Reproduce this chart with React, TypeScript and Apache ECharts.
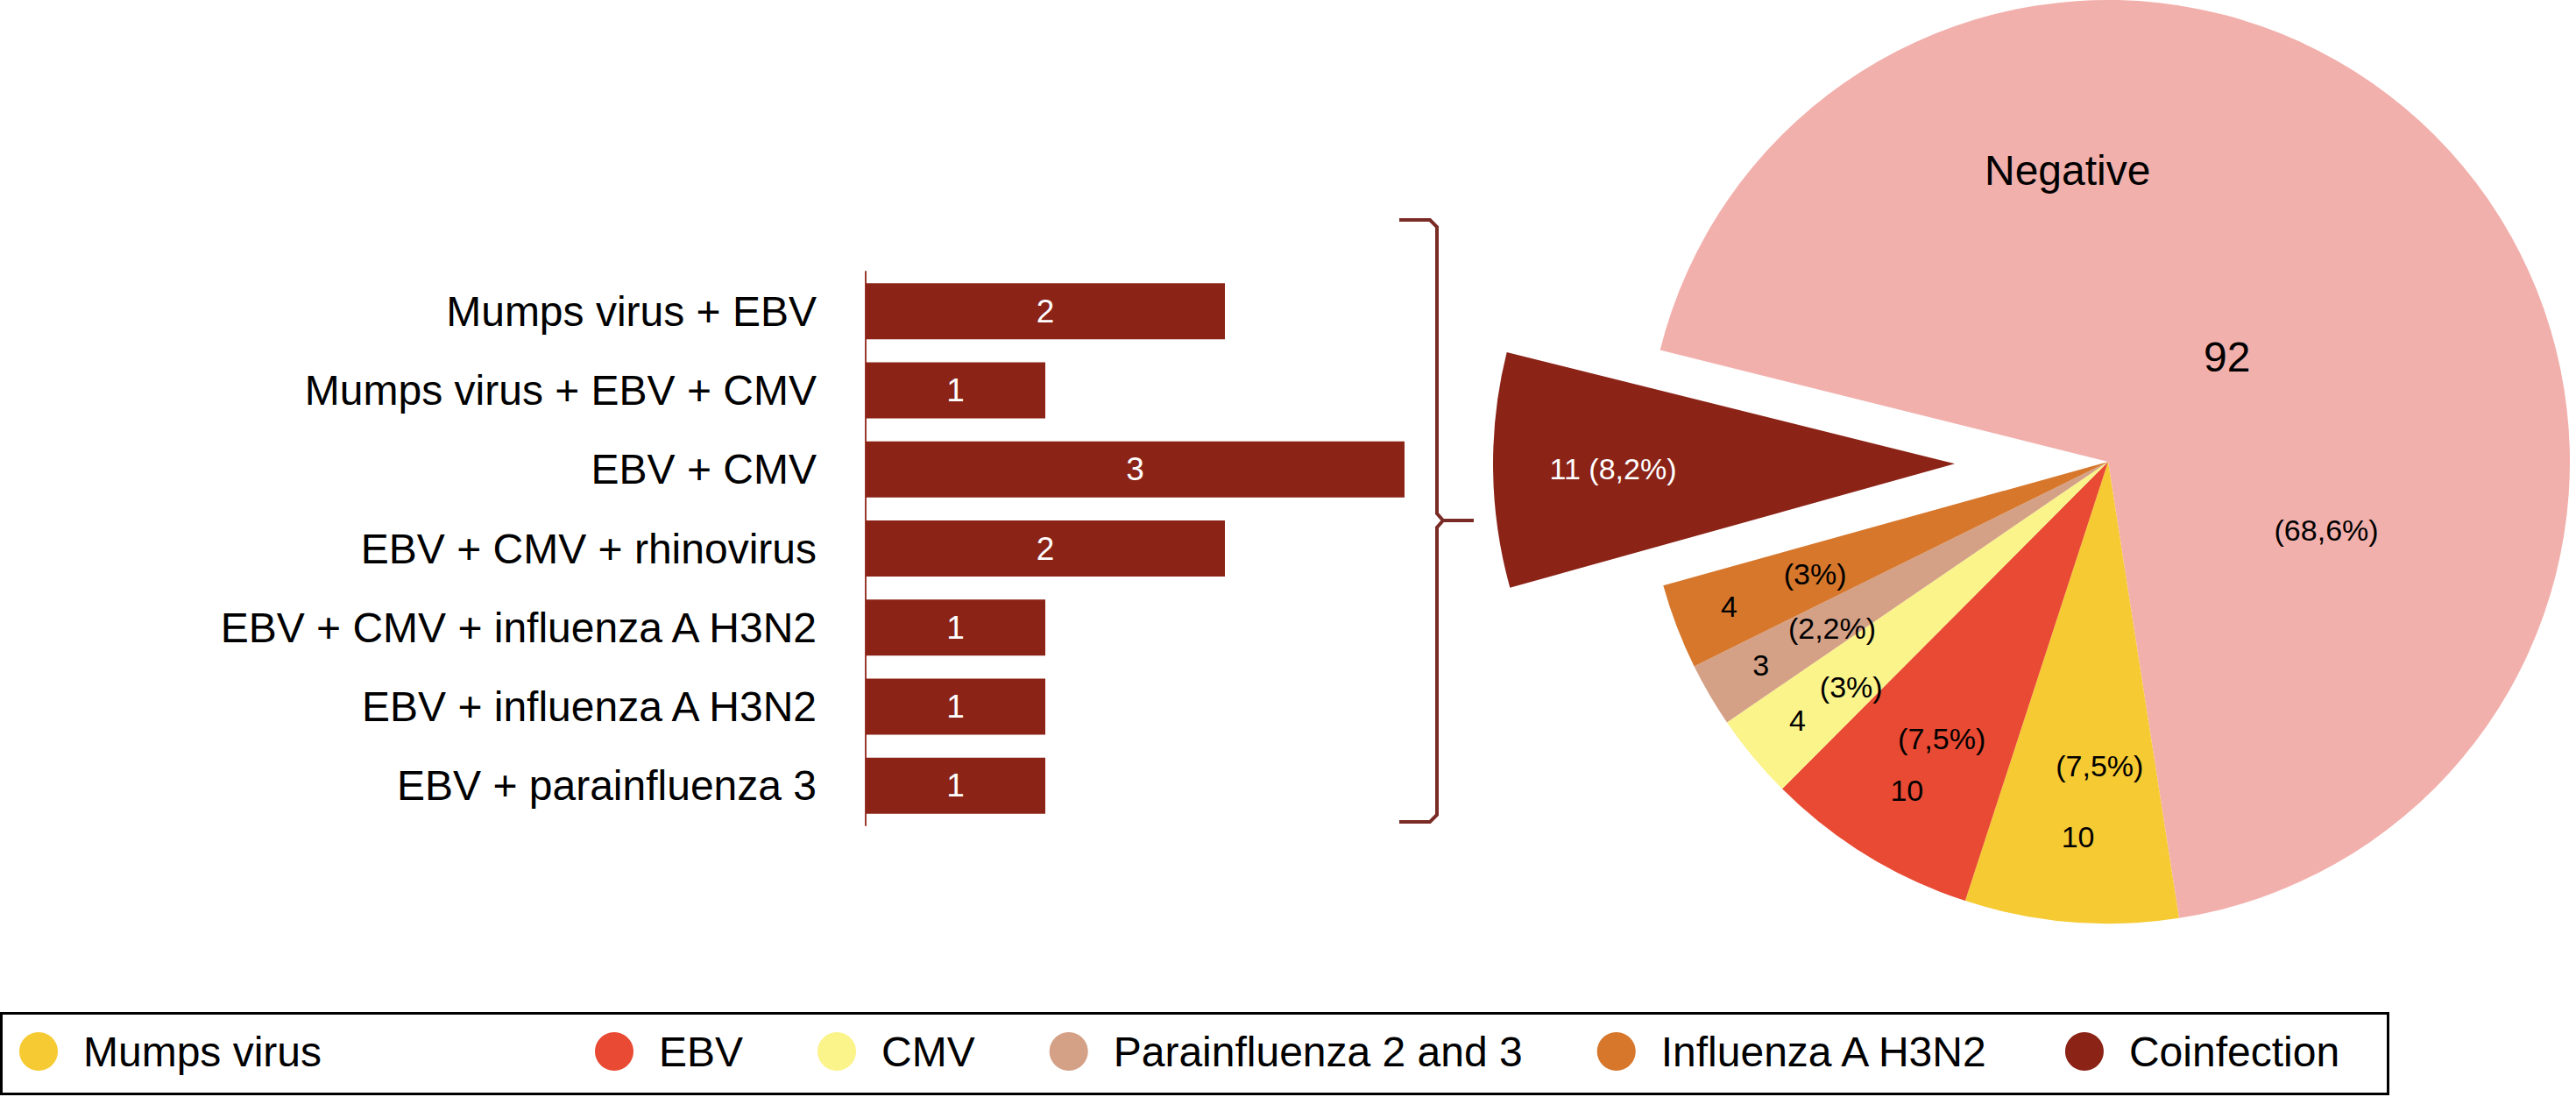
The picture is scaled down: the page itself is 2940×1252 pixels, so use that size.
import { useEffect, useRef } from "react";
import * as echarts from "echarts";

// 合并感染（柱状图）
const COINF_CATEGORIES = [
  "Mumps virus + EBV",
  "Mumps virus + EBV + CMV",
  "EBV + CMV",
  "EBV + CMV + rhinovirus",
  "EBV + CMV + influenza A H3N2",
  "EBV + influenza A H3N2",
  "EBV + parainfluenza 3",
];
const COINF_COUNTS = [2, 1, 3, 2, 1, 1, 1];

// 饼图：阴性 + 各病毒 + 合并感染
const PIE_NAMES = [
  "Negative",
  "Mumps virus",
  "EBV",
  "CMV",
  "Parainfluenza 2 and 3",
  "Influenza A H3N2",
  "Coinfection",
];
const PIE_VALUES = [92, 10, 10, 4, 3, 4, 11];
const PIE_PERCENTS = ["68,6%", "7,5%", "7,5%", "3%", "2,2%", "3%", "8,2%"];
const PIE_COLORS = [
  "#f2b0ac",
  "#f6ca33",
  "#e94a33",
  "#fbf48a",
  "#d4a187",
  "#d6772c",
  "#8b2317",
];
const LEGEND_FIRST = ["Mumps virus"];
const LEGEND_REST = [
  "EBV",
  "CMV",
  "Parainfluenza 2 and 3",
  "Influenza A H3N2",
  "Coinfection",
];

const BAR_COLOR = "#8b2317";
const FONT = "'Liberation Sans', Arial, Helvetica, sans-serif";
const COINF = 6; // Coinfection 的下标

// 饼图几何
const PIE_CX = 2406;
const PIE_CY = 527;
const PIE_R = 527;
const START_ANGLE = 166;
const EXPLODE = 175;

// 标签放置：[半径, 相对扇区中线的角度偏移]
const VALUE_LABEL_POS: [number, number][] = [
  [181, -1],
  [429, 0],
  [440, 0],
  [461, 0],
  [459, 0],
  [463, 0],
  [0, 0],
];
const PCT_LABEL_POS: [number, number][] = [
  [261, -59.8],
  [347, 3],
  [369, 0.5],
  [390, 1.5],
  [368, 0.8],
  [358, 0],
  [565, 0],
];
const NAME_LABEL_POS: [number, number] = [336, 55.5];

const total = PIE_VALUES.reduce((a, b) => a + b, 0);

function midAngle(i: number) {
  let acc = 0;
  for (let j = 0; j < i; j++) acc += PIE_VALUES[j];
  return START_ANGLE - ((acc + PIE_VALUES[i] / 2) / total) * 360;
}

function polar(i: number, [r, d]: [number, number]) {
  const a = ((midAngle(i) + d) * Math.PI) / 180;
  return {
    x: PIE_CX + r * Math.cos(a),
    y: PIE_CY - r * Math.sin(a),
    align: "center",
    verticalAlign: "middle",
  };
}

const pieBase = {
  type: "pie",
  center: [PIE_CX, PIE_CY],
  radius: PIE_R,
  startAngle: START_ANGLE,
  clockwise: true,
  avoidLabelOverlap: false,
  emphasis: { disabled: true },
  labelLine: { show: false },
};

export default function App() {
  const ref = useRef<HTMLDivElement>(null);

  useEffect(() => {
    if (!ref.current) return;
    const chart = echarts.init(ref.current, null, { renderer: "svg" });

    const legendCommon = {
      icon: "circle",
      itemWidth: 44,
      itemHeight: 44,
      padding: 0,
      top: 1176,
      selectedMode: false,
      formatter: (name: string) => `{t|${name}}`,
      textStyle: {
        fontSize: 48,
        color: "#000",
        fontFamily: FONT,
        rich: {
          t: {
            fontSize: 48,
            color: "#000",
            fontFamily: FONT,
            padding: [0, 0, 0, 24],
          },
        },
      },
    };

    chart.setOption({
      animation: false,
      backgroundColor: "#fff",
      textStyle: { fontFamily: FONT },
      legend: [
        { ...legendCommon, data: LEGEND_FIRST, left: 22 },
        { ...legendCommon, data: LEGEND_REST, left: 679, itemGap: 85 },
      ],
      grid: { left: 988, top: 310, width: 615, height: 632 },
      xAxis: { type: "value", min: 0, max: 3, show: false },
      yAxis: {
        type: "category",
        inverse: true,
        data: COINF_CATEGORIES,
        axisLine: { show: true, lineStyle: { color: "#9a3a30", width: 2 } },
        axisTick: { show: false },
        axisLabel: { fontSize: 48, color: "#000", margin: 56 },
      },
      graphic: [
        {
          type: "rect",
          shape: { x: 1.5, y: 1156.5, width: 2724, height: 92 },
          style: { fill: "none", stroke: "#000", lineWidth: 3 },
          silent: true,
        },
        {
          type: "polyline",
          shape: {
            points: [
              [1597, 251],
              [1632, 251],
              [1640, 259],
              [1640, 586],
              [1647, 594],
              [1682, 594],
            ],
          },
          style: { stroke: "#7a2b25", lineWidth: 4, fill: "none" },
          silent: true,
        },
        {
          type: "polyline",
          shape: {
            points: [
              [1647, 594],
              [1640, 602],
              [1640, 930],
              [1632, 938],
              [1597, 938],
            ],
          },
          style: { stroke: "#7a2b25", lineWidth: 4, fill: "none" },
          silent: true,
        },
      ],
      series: [
        {
          type: "bar",
          data: COINF_COUNTS,
          barWidth: 64,
          silent: true,
          itemStyle: { color: BAR_COLOR },
          label: {
            show: true,
            position: "inside",
            color: "#fff",
            fontSize: 37,
          },
        },
        // 主饼图：扇区 + 数值标签
        {
          ...pieBase,
          name: "main",
          selectedMode: "single",
          selectedOffset: EXPLODE,
          select: { itemStyle: { color: PIE_COLORS[COINF] } },
          itemStyle: { borderWidth: 0 },
          label: {
            show: true,
            position: "inside",
            fontSize: 34,
            color: "#000",
            formatter: "{c}",
          },
          labelLayout: (p: { dataIndex: number }) =>
            polar(p.dataIndex, VALUE_LABEL_POS[p.dataIndex]),
          data: PIE_NAMES.map((name, i) => ({
            name,
            value: PIE_VALUES[i],
            selected: i === COINF,
            itemStyle: { color: PIE_COLORS[i] },
            label:
              i === 0
                ? { fontSize: 48 }
                : i === COINF
                  ? { show: false }
                  : {},
          })),
        },
        // 百分比标签（Coinfection 为“数值 (百分比)”）
        {
          ...pieBase,
          name: "pct",
          silent: true,
          itemStyle: { color: "rgba(0,0,0,0)", borderWidth: 0 },
          label: {
            show: true,
            position: "inside",
            fontSize: 34,
            color: "#000",
            formatter: (p: { dataIndex: number; value: number }) =>
              p.dataIndex === COINF
                ? `${p.value} (${PIE_PERCENTS[p.dataIndex]})`
                : `(${PIE_PERCENTS[p.dataIndex]})`,
          },
          labelLayout: (p: { dataIndex: number }) =>
            polar(p.dataIndex, PCT_LABEL_POS[p.dataIndex]),
          data: PIE_NAMES.map((name, i) => ({
            name,
            value: PIE_VALUES[i],
            label: i === COINF ? { color: "#fff" } : {},
          })),
        },
        // 名称标签（仅 Negative）
        {
          ...pieBase,
          name: "name",
          silent: true,
          itemStyle: { color: "rgba(0,0,0,0)", borderWidth: 0 },
          label: {
            show: true,
            position: "inside",
            fontSize: 48,
            color: "#000",
            formatter: "{b}",
          },
          labelLayout: (p: { dataIndex: number }) =>
            polar(p.dataIndex, NAME_LABEL_POS),
          data: PIE_NAMES.map((name, i) => ({
            name,
            value: PIE_VALUES[i],
            label: { show: i === 0 },
          })),
        },
      ],
    });

    return () => chart.dispose();
  }, []);

  return (
    <div
      ref={ref}
      style={{
        position: "fixed",
        left: 0,
        top: 0,
        width: 2940,
        height: 1252,
        background: "#fff",
      }}
    />
  );
}
